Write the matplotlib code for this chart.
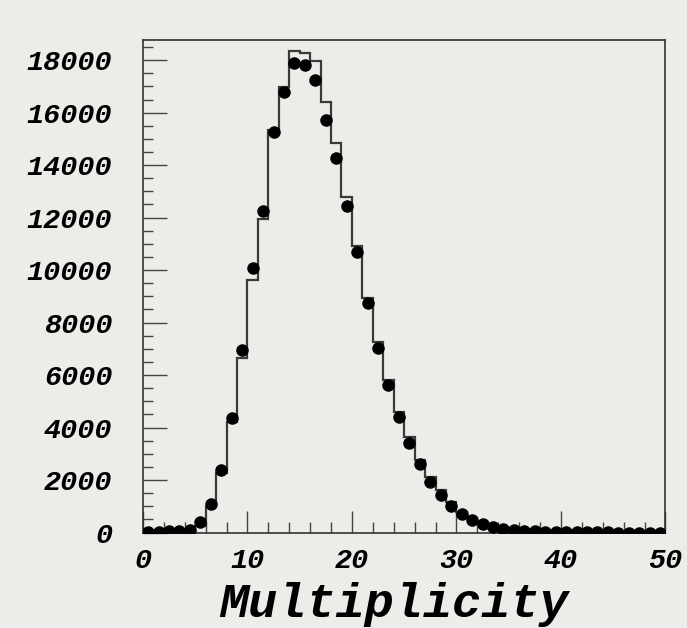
import numpy as np
import matplotlib
matplotlib.use("Agg")
import matplotlib.pyplot as plt
from matplotlib.ticker import MultipleLocator

# ─── DATA ─────────────────────────────────────────────────────────────────
bin_edges = np.arange(0, 51, 1)

# measured multiplicity (points), one value per unit bin 0..49
data_counts = [
    20, 30, 40, 60, 110, 400, 1100, 2400, 4370, 6960,
    10070, 12250, 15250, 16800, 17880, 17820, 17240, 15720, 14280, 12430,
    10680, 8740, 7050, 5620, 4410, 3420, 2600, 1930, 1420, 1000,
    690, 480, 320, 220, 140, 90, 60, 40, 25, 16,
    10, 6, 4, 3, 2, 1, 1, 0, 0, 0,
]

# simulation (step histogram)
mc_counts = [
    10, 15, 25, 40, 80, 250, 980, 2250, 4220, 6640,
    9640, 11950, 15330, 16990, 18360, 18260, 17980, 16420, 14830, 12800,
    10920, 8950, 7270, 5810, 4600, 3650, 2760, 2130, 1620, 1170,
    800, 560, 380, 260, 170, 110, 70, 45, 30, 20,
    12, 8, 5, 3, 2, 1, 1, 0, 0, 0,
]

x_label = "Multiplicity"

# ─── STYLE ────────────────────────────────────────────────────────────────
BG = "#ecece9"
FONT = dict(family="Liberation Mono", weight="bold", style="italic")

fig = plt.figure(figsize=(6.87, 6.28), dpi=100, facecolor=BG)
ax = fig.add_axes([0.208, 0.152, 0.7606, 0.784], facecolor=BG)

centers = bin_edges[:-1] + 0.5
ax.stairs(mc_counts, bin_edges, color="#3a3a3a", lw=1.6, zorder=2)
ax.plot(centers, data_counts, "o", color="black", ms=8, zorder=3)

ax.set_xlim(0, 50)
ax.set_ylim(0, 18760)

ax.xaxis.set_major_locator(MultipleLocator(10))
ax.xaxis.set_minor_locator(MultipleLocator(2))
ax.yaxis.set_major_locator(MultipleLocator(2000))
ax.yaxis.set_minor_locator(MultipleLocator(500))

ax.tick_params(which="both", direction="in", color="#444444", width=1.0,
               top=False, right=False)
ax.tick_params(axis="x", which="major", length=16, pad=11)
ax.tick_params(axis="x", which="minor", length=8)
ax.tick_params(axis="y", which="major", length=17, pad=22)
ax.tick_params(axis="y", which="minor", length=7)

for lbl in ax.get_xticklabels() + ax.get_yticklabels():
    lbl.set_fontproperties(matplotlib.font_manager.FontProperties(size=20.5, **FONT))

for sp in ax.spines.values():
    sp.set_color("#333333")
    sp.set_linewidth(1.2)

ax.set_xlabel(x_label, fontsize=35, **FONT)
ax.xaxis.set_label_coords(0.48, -0.172)
ax.xaxis.label.set_va("baseline")

fig.savefig("out.png", dpi=100, facecolor=BG)
